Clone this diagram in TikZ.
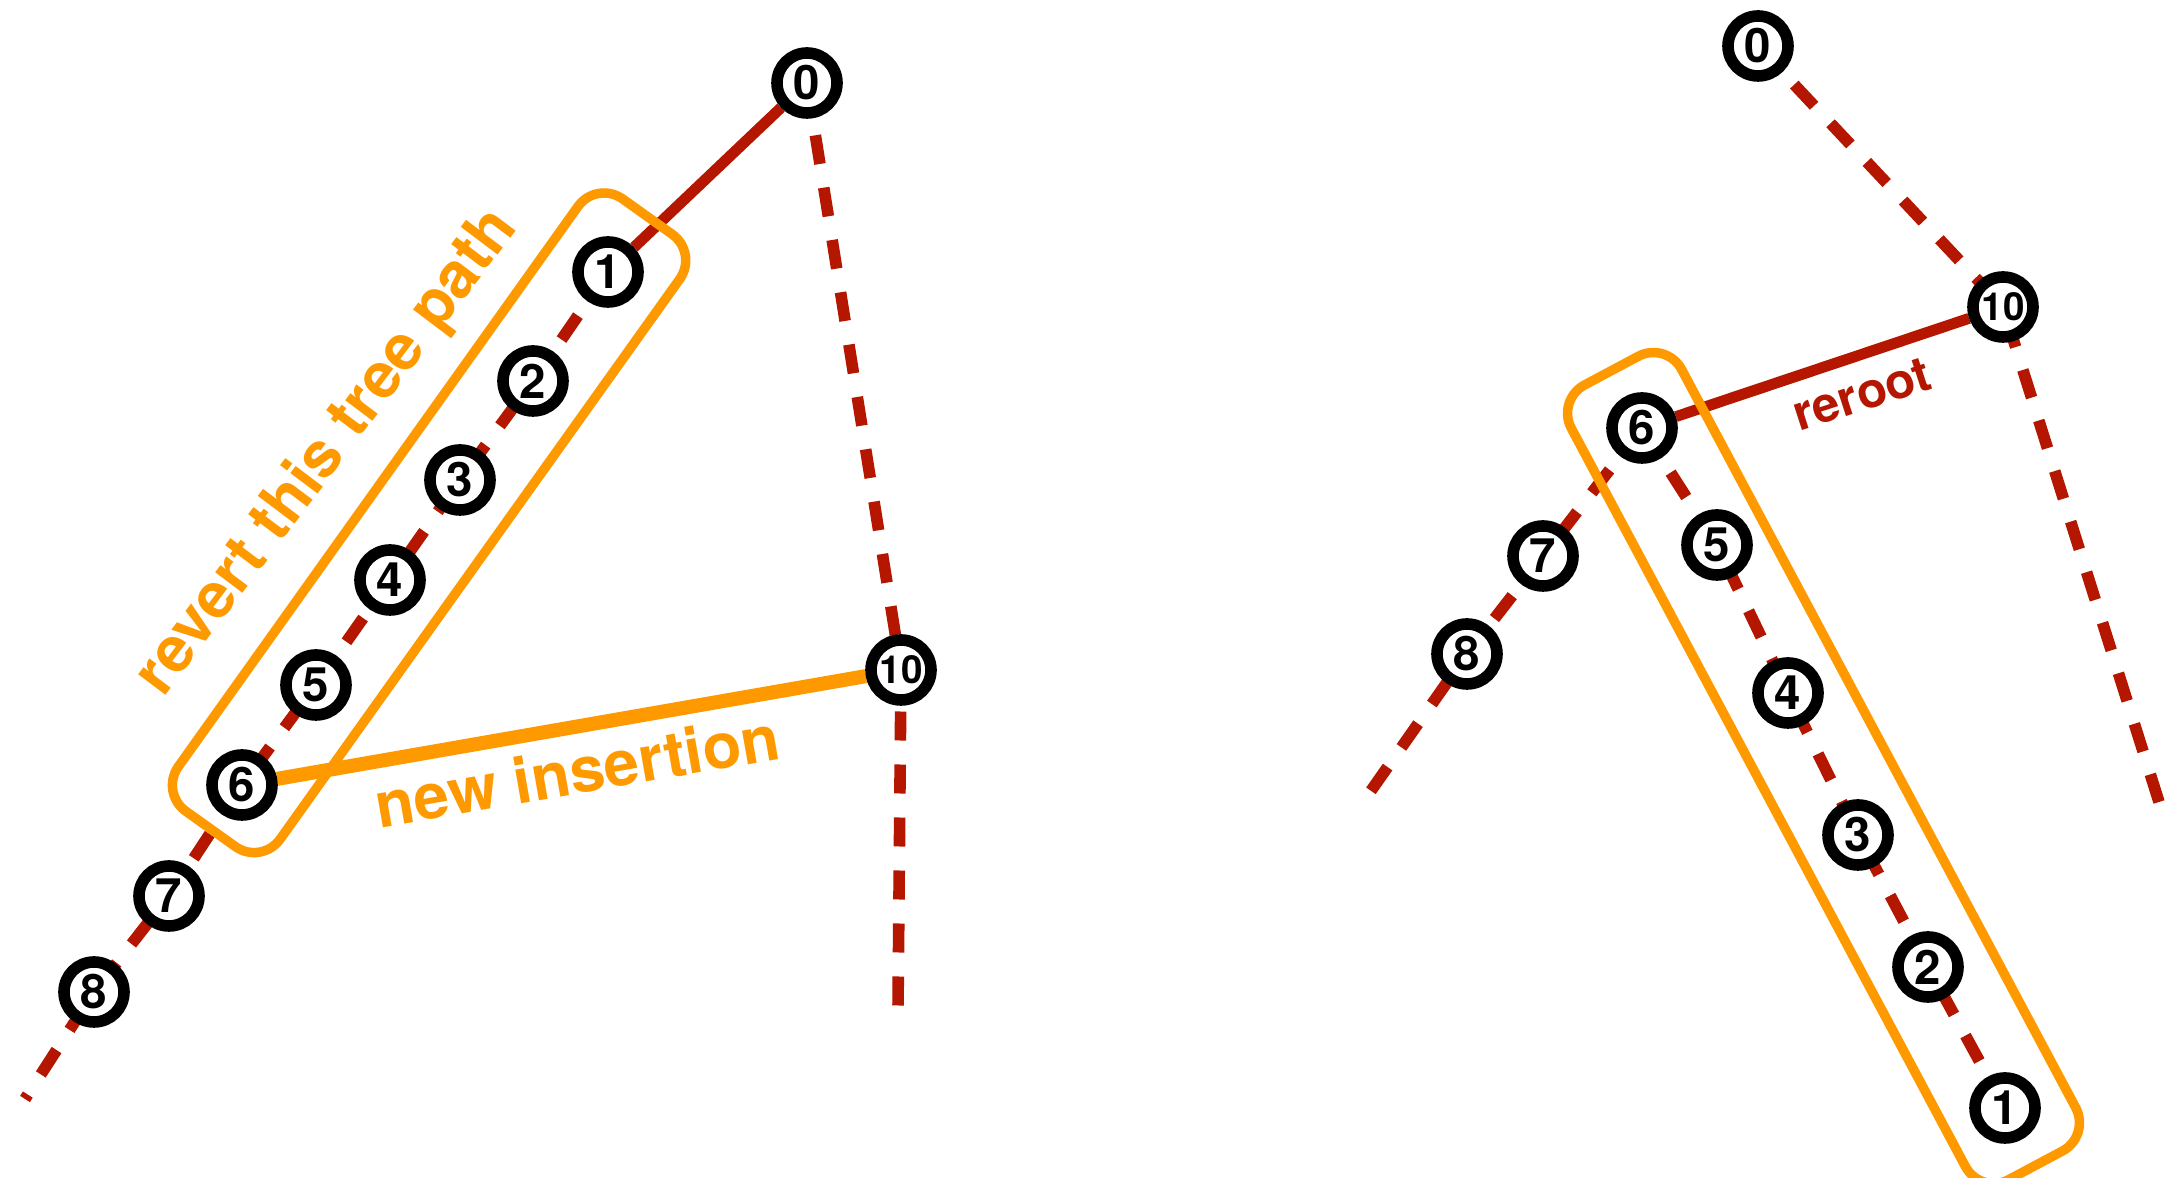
\documentclass[tikz,border=0pt]{standalone}
\usepackage{fontspec}
\setmainfont{TeX Gyre Heros}
\usetikzlibrary{calc,backgrounds}

\definecolor{treered}{RGB}{180,22,0}
\definecolor{treeorange}{RGB}{255,153,0}

\begin{document}
\begin{tikzpicture}[
    vertex/.style={circle, draw=black, line width=3.3pt, fill=white, minimum size=0.60cm, inner sep=0pt, font=\fontsize{13.5}{13.5}\selectfont\bfseries},
    bigvertex/.style={vertex, font=\fontsize{11}{11}\selectfont\bfseries},
    treeedge/.style={treered, line width=3.1pt},
    pathedge/.style={treeedge, line width=3.3pt, dash pattern=on 0.29cm off 0.24cm},
    insertion/.style={treeorange, line width=4pt},
    pathbox/.style={draw=treeorange, line width=2.7pt, rounded corners=0.32cm, minimum height=1.25cm, inner sep=0pt},
    orangelabel/.style={text=treeorange, anchor=base, font=\fontsize{18}{18}\selectfont\bfseries},
    redlabel/.style={text=treered, anchor=base, font=\fontsize{14}{14}\selectfont\bfseries},
]
\useasboundingbox (0,0) rectangle (21.67,11.78);

% ---- Left: the new insertion ----
\node[vertex] (l0) at (8.07,10.95) {0};
\node[vertex] (l1) at (6.08,9.06) {1};
\node[vertex] (l2) at (5.33,7.97) {2};
\node[vertex] (l3) at (4.60,6.98) {3};
\node[vertex] (l4) at (3.90,5.98) {4};
\node[vertex] (l5) at (3.16,4.93) {5};
\node[vertex] (l6) at (2.42,3.93) {6};
\node[vertex] (l7) at (1.69,2.82) {7};
\node[vertex] (l8) at (0.94,1.86) {8};
\node[bigvertex] (l10) at (9.01,5.08) {10};
\coordinate (ltail) at (0.25,0.79);
\coordinate (lend) at (8.98,1.69);

\node[orangelabel, rotate=53] (revertlabel) at (3.41,7.15) {revert this tree path};
\node[orangelabel, rotate=9.9] (insertlabel) at (5.81,3.845) {new insertion};

\begin{scope}[on background layer]
\draw[pathedge] (l0.center) -- (l10.center) -- (lend);
\draw[treeedge] (l0) -- (l1);
\draw[pathedge] (l1.center) -- (l2.center) -- (l3.center) -- (l4.center) -- (l5.center)
    -- (l6.center) -- (l7.center) -- (l8.center) -- (ltail);
\path let \p1=($(l1)-(l6)$), \n1={veclen(\x1,\y1)}, \n2={atan2(\y1,\x1)} in
    node[pathbox, minimum width=\n1+1.22cm, rotate=\n2] (lbox) at ($ ($(l6)!0.5!(l1)$)!0.07cm!(l1) $) {};
\draw[insertion] (l6) -- (l10);
\end{scope}

% ---- Right: after the reroot ----
\node[vertex] (r0) at (17.58,11.32) {0};
\node[bigvertex] (r10) at (20.03,8.71) {10};
\node[vertex] (r6) at (16.42,7.50) {6};
\node[vertex] (r7) at (15.43,6.22) {7};
\node[vertex] (r8) at (14.67,5.24) {8};
\node[vertex] (r5) at (17.17,6.33) {5};
\node[vertex] (r4) at (17.88,4.85) {4};
\node[vertex] (r3) at (18.58,3.43) {3};
\node[vertex] (r2) at (19.28,2.11) {2};
\node[vertex] (r1) at (20.05,0.70) {1};
\coordinate (rtail) at (13.68,3.83);
\coordinate (rend) at (21.59,3.76);

\node[redlabel, rotate=18] (rerootlabel) at (18.67,7.68) {reroot};

\begin{scope}[on background layer]
\draw[pathedge] (r0.center) -- (r10.center) -- (rend);
\draw[treeedge] (r6) -- (r10);
\draw[pathedge] (r6.center) -- (r5.center) -- (r4.center) -- (r3.center) -- (r2.center) -- (r1.center);
\draw[pathedge] (r6.center) -- (r7.center) -- (r8.center) -- (rtail);
\path let \p1=($(r6)-(r1)$), \n1={veclen(\x1,\y1)}, \n2={atan2(\y1,\x1)} in
    node[pathbox, minimum width=\n1+1.30cm, rotate=\n2] (rbox) at ($(r1)!0.5!(r6)$) {};
\end{scope}

\end{tikzpicture}
\end{document}
